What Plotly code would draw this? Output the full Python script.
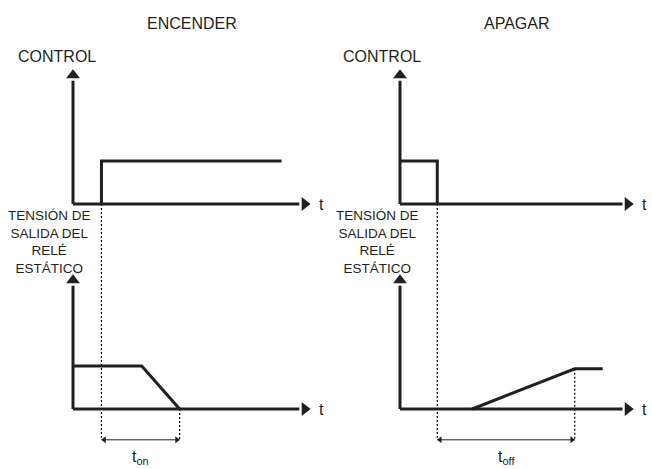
import plotly.graph_objects as go

# ---------------- data (time units / level units) ----------------
T_TIP = 10.0            # length of the time axes
V_TIP = 10.0            # height of the vertical axes

# ENCENDER (left)
on_ctrl_t = [1.2, 1.2, 8.8]
on_ctrl_v = [0.0, 3.2, 3.2]
on_out_t = [0.0, 2.9, 4.5]
on_out_v = [3.2, 3.2, 0.0]

# APAGAR (right)
off_ctrl_t = [0.0, 1.6, 1.6]
off_ctrl_v = [3.2, 3.2, 0.0]
off_out_t = [3.1, 7.5, 8.7]
off_out_v = [0.0, 3.0, 3.0]

DIM_LEVEL = -2.3        # level of the t_on / t_off dimension lines (bottom panel units)

titles = ["ENCENDER", "APAGAR"]
ctrl_label = "CONTROL"
out_label = "TENSIÓN DE<br>SALIDA DEL<br>RELÉ<br>ESTÁTICO"
axis_label = "t"
dim_labels = ["t<sub><span style='font-size:11px'>on</span></sub>",
              "t<sub><span style='font-size:11px'>off</span></sub>"]

# ---------------- layout geometry (pixels) ----------------
W, H = 652, 469
C = "#231f20"
FONT = "Liberation Sans, Arial, sans-serif"

L_ORIG, L_TIP = 73, 310
R_ORIG, R_TIP = 400, 633
TOP_BASE, TOP_TIP = 204, 70
BOT_BASE, BOT_TIP = 409, 275


def xrange(orig, tip):
    s = (tip - orig) / T_TIP
    return [-orig / s, (W - orig) / s]


def yrange(base, tip):
    s = (base - tip) / V_TIP
    return [(base - H) / s, base / s]


XL, XR = xrange(L_ORIG, L_TIP), xrange(R_ORIG, R_TIP)
YT, YB = yrange(TOP_BASE, TOP_TIP), yrange(BOT_BASE, BOT_TIP)


def ypaper(v, rng):
    return (v - rng[0]) / (rng[1] - rng[0])


def px(x):
    return x / W


def py(y):
    return 1 - y / H


fig = go.Figure()
line = dict(color=C, width=3)
HEAD = 0.45  # arrowhead length in axis units (approx.)

for xr, yr in [("x", "y"), ("x", "y2"), ("x2", "y"), ("x2", "y2")]:
    # horizontal axis with arrowhead
    fig.add_trace(go.Scatter(x=[0, T_TIP - HEAD], y=[0, 0], xaxis=xr, yaxis=yr, mode="lines",
                             line=line, hoverinfo="skip"))
    fig.add_trace(go.Scatter(x=[T_TIP - HEAD / 2], y=[0], xaxis=xr, yaxis=yr, mode="markers",
                             marker=dict(symbol="triangle-right", size=12, color=C, line=dict(width=0)),
                             hoverinfo="skip"))
    # vertical axis with arrowhead
    fig.add_trace(go.Scatter(x=[0, 0], y=[0, V_TIP - 0.8], xaxis=xr, yaxis=yr, mode="lines",
                             line=line, hoverinfo="skip"))
    fig.add_trace(go.Scatter(x=[0], y=[V_TIP - 0.4], xaxis=xr, yaxis=yr, mode="markers",
                             marker=dict(symbol="triangle-up", size=12, color=C, line=dict(width=0)),
                             hoverinfo="skip"))

fig.add_trace(go.Scatter(x=on_ctrl_t, y=on_ctrl_v, xaxis="x", yaxis="y", mode="lines", line=line))
fig.add_trace(go.Scatter(x=on_out_t, y=on_out_v, xaxis="x", yaxis="y2", mode="lines", line=line))
fig.add_trace(go.Scatter(x=off_ctrl_t, y=off_ctrl_v, xaxis="x2", yaxis="y", mode="lines", line=line))
fig.add_trace(go.Scatter(x=off_out_t, y=off_out_v, xaxis="x2", yaxis="y2", mode="lines", line=line))

ann = []
shapes = []
dot = dict(color="#000000", width=1.2, dash="2px,2px")

for xr, yr in [("x", "y"), ("x", "y2"), ("x2", "y"), ("x2", "y2")]:
    ann.append(dict(x=T_TIP + 0.3, y=0, xref=xr, yref=yr, text=axis_label, showarrow=False,
                    xanchor="left", yanchor="middle", font=dict(size=16, color=C, family=FONT)))

# dotted guides and dimension arrows
events = [("x", on_ctrl_t[0], on_out_t[-1], on_out_v[-1]),
          ("x2", off_ctrl_t[-1], off_out_t[1], off_out_v[1])]
for i, (xr, t0, t1, v1) in enumerate(events):
    shapes.append(dict(type="line", xref=xr, yref="paper", x0=t0, x1=t0,
                       y0=ypaper(0, YT), y1=ypaper(DIM_LEVEL, YB), line=dot))
    shapes.append(dict(type="line", xref=xr, yref="y2", x0=t1, x1=t1,
                       y0=v1, y1=DIM_LEVEL, line=dot))
    fig.add_trace(go.Scatter(x=[t0, t1], y=[DIM_LEVEL, DIM_LEVEL], xaxis=xr, yaxis="y2",
                             mode="lines", line=dict(color=C, width=1), hoverinfo="skip"))
    fig.add_trace(go.Scatter(x=[t0 + 0.12, t1 - 0.12], y=[DIM_LEVEL, DIM_LEVEL], xaxis=xr, yaxis="y2",
                             mode="markers",
                             marker=dict(symbol=["triangle-left", "triangle-right"], size=6, color=C,
                                         line=dict(width=0)),
                             hoverinfo="skip"))
    ann.append(dict(x=(t0 + t1) / 2, y=DIM_LEVEL - 1.35, xref=xr, yref="y2", text=dim_labels[i],
                    showarrow=False, xanchor="center", yanchor="middle",
                    font=dict(size=16, color=C, family=FONT)))

# text labels
for cx, title in zip([192, 517], titles):
    ann.append(dict(x=px(cx), y=py(23), xref="paper", yref="paper", text=title, showarrow=False,
                    xanchor="center", yanchor="middle", font=dict(size=16, color=C, family=FONT)))
for cx in [57, 382]:
    ann.append(dict(x=px(cx), y=py(56), xref="paper", yref="paper", text=ctrl_label, showarrow=False,
                    xanchor="center", yanchor="middle", font=dict(size=16, color=C, family=FONT)))
for cx in [49, 377]:
    ann.append(dict(x=px(cx), y=py(242), xref="paper", yref="paper", text=out_label, showarrow=False,
                    xanchor="center", yanchor="middle", align="center",
                    font=dict(size=13.5, color=C, family=FONT)))

ax_common = dict(visible=False, showgrid=False, zeroline=False, fixedrange=True)
fig.update_layout(
    width=W, height=H, margin=dict(l=0, r=0, t=0, b=0),
    paper_bgcolor="white", plot_bgcolor="white", showlegend=False,
    xaxis=dict(domain=[0, 1], range=XL, **ax_common),
    xaxis2=dict(domain=[0, 1], range=XR, overlaying="x", **ax_common),
    yaxis=dict(domain=[0, 1], range=YT, **ax_common),
    yaxis2=dict(domain=[0, 1], range=YB, overlaying="y", **ax_common),
    annotations=ann, shapes=shapes,
)

fig.write_html("out.html", config={"displayModeBar": False},
               post_script="document.body.style.margin='0';document.body.style.overflow='hidden';")
